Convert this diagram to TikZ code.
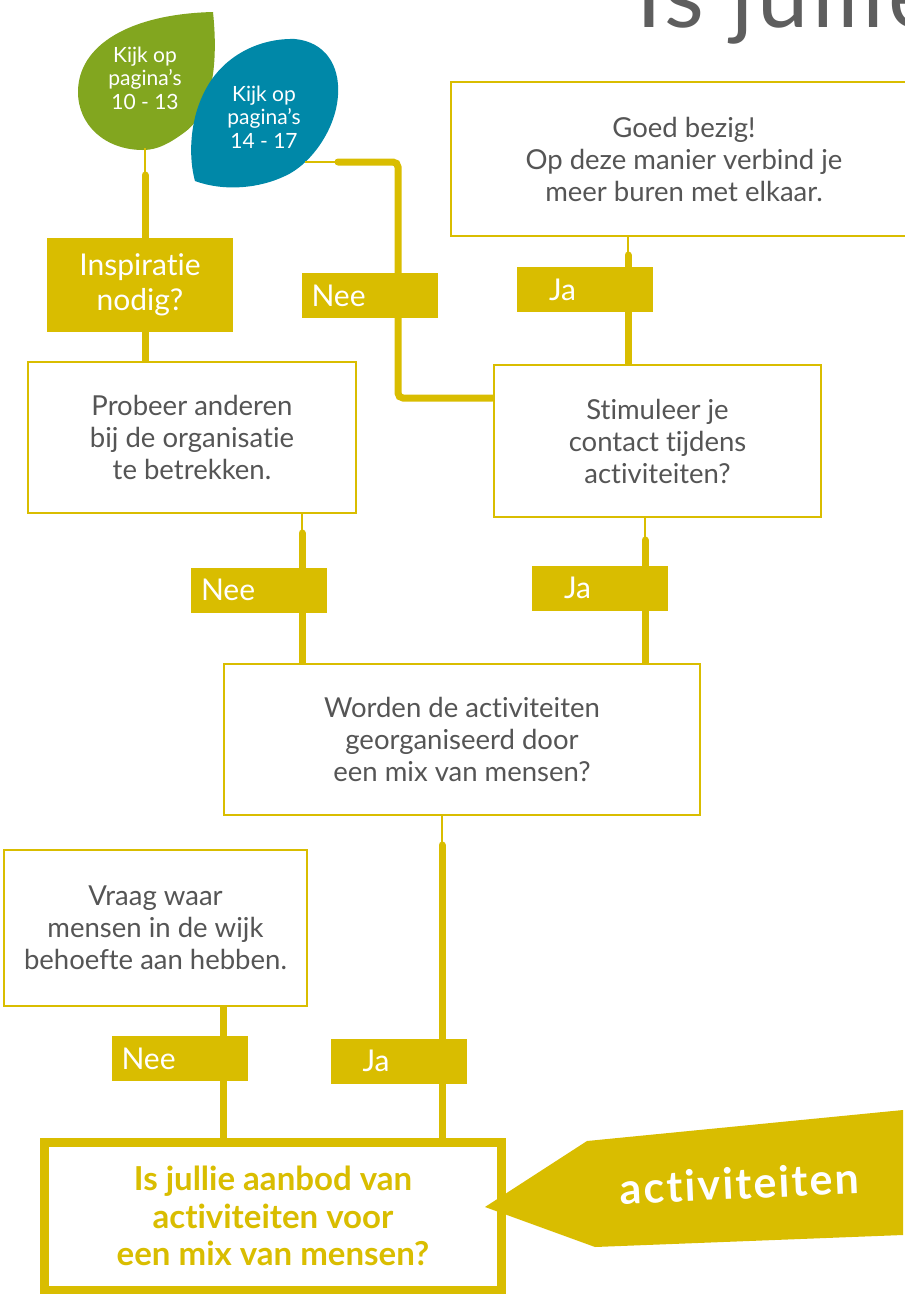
\documentclass[tikz,border=0pt]{standalone}
\usepackage{fontspec}
\setmainfont{Lato}[Ligatures={NoCommon,NoContextual}]
\definecolor{ylw}{RGB}{217,189,0}
\definecolor{txtgrey}{RGB}{85,85,85}
\definecolor{leafgreen}{RGB}{130,166,31}
\definecolor{leafblue}{RGB}{0,136,168}
\begin{document}
\begin{tikzpicture}[x=1pt,y=-1pt,
  qbox/.style={draw=ylw, line width=2.6pt, fill=white, align=center, text=txtgrey,
    font=\fontsize{27.5}{32}\selectfont, inner sep=0pt},
  fbox/.style={fill=ylw, align=center, text=white, font=\fontsize{30}{35}\selectfont, inner sep=0pt},
  neelab/.style={fill=ylw, text=white, font=\fontsize{30}{30}\selectfont, align=left,
    inner xsep=10pt, text width=116pt, minimum height=45pt, inner ysep=0pt},
  jalab/.style={fill=ylw, text=white, font=\fontsize{30}{30}\selectfont, align=left,
    inner xsep=32pt, text width=72pt, minimum height=45pt, inner ysep=0pt},
  leaftext/.style={text=white, align=center, font=\fontsize{21}{23.5}\selectfont, inner sep=0pt},
  thickconn/.style={draw=ylw, line width=7pt, line cap=round},
  thinconn/.style={draw=ylw, line width=2pt},
]
\useasboundingbox (0,0) rectangle (905,1294);
\clip (0,0) rectangle (905,1294);

% title
\node[anchor=base west, inner sep=0pt, text=txtgrey!95,
  font=\fontsize{92}{92}\selectfont\addfontfeature{LetterSpace=4}] (title) at (636,27) {Is jullie};

% coordinates for connector ends
\coordinate (gl) at (145,148);
\coordinate (g1) at (145,175);
\coordinate (bl) at (305,162);
\coordinate (b1) at (338,162);
\coordinate (b2) at (398,162);
\coordinate (b3) at (398,398);
\coordinate (q1) at (628,255);
\coordinate (p1) at (302,533);
\coordinate (s1) at (645,540);
\coordinate (w1) at (442,845);
\coordinate (v1) at (223,1020);

% boxes (positions)
\path
  node[fbox, minimum width=186pt, minimum height=94pt] (insp) at (140,285) {Inspiratie\\nodig?}
  node[qbox, minimum width=466pt, minimum height=154pt] (goed) at (684,159) {Goed bezig!\\Op deze manier verbind je\\meer buren met elkaar.}
  node[qbox, minimum width=328pt, minimum height=151pt] (probeer) at (192,437.5) {Probeer anderen\\bij de organisatie\\te betrekken.}
  node[qbox, minimum width=327pt, minimum height=152pt] (stim) at (657.5,441) {Stimuleer je\\contact tijdens\\activiteiten?}
  node[qbox, minimum width=476pt, minimum height=151pt] (worden) at (462,739.5) {Worden de activiteiten\\georganiseerd door\\een mix van mensen?}
  node[qbox, minimum width=303pt, minimum height=156pt] (vraag) at (155.5,928) {Vraag waar\\mensen in de wijk\\behoefte aan hebben.}
  node[qbox, line width=9pt, text=ylw, font=\fontsize{33}{37.5}\selectfont\bfseries, minimum width=457pt, minimum height=148pt] (final) at (273,1216) {Is jullie aanbod van\\activiteiten voor\\een mix van mensen?};

% leaves
\fill[leafgreen] (213,12) .. controls (218,60) and (214,110) .. (185,132)
  .. controls (170,143) and (158,150) .. (143,150)
  .. controls (105,150) and (78,125) .. (78,92)
  .. controls (78,45) and (130,14) .. (213,12) -- cycle;
\fill[leafblue] (195,181) .. controls (189,160) and (188,120) .. (207,87)
  .. controls (225,55) and (260,38) .. (295,39)
  .. controls (325,42) and (340,65) .. (338,95)
  .. controls (336,130) and (310,165) .. (285,176)
  .. controls (260,188) and (225,192) .. (195,181) -- cycle;
\node[leaftext] (gtext) at (145,78) {Kijk op\\pagina’s\\10 - 13};
\node[leaftext] (btext) at (264,117) {Kijk op\\pagina’s\\14 - 17};

% connectors
\draw[thinconn] (gl) -- (g1);
\draw[thickconn] (g1) -- (g1 |- insp.north);
\draw[thickconn] (g1 |- insp.south) -- (g1 |- probeer.north);
\draw[thinconn] (bl) -- (b1);
\draw[thickconn, rounded corners=5pt] (b1) -- (b2) -- (b3) -- (b3 -| stim.west);
\draw[thinconn] (q1 |- goed.south) -- (q1);
\draw[thickconn] (q1) -- (q1 |- stim.north);
\draw[thinconn] (p1 |- probeer.south) -- (p1);
\draw[thickconn] (p1) -- (p1 |- worden.north);
\draw[thinconn] (s1 |- stim.south) -- (s1);
\draw[thickconn] (s1) -- (s1 |- worden.north);
\draw[thinconn] (w1 |- worden.south) -- (w1);
\draw[thickconn] (w1) -- (w1 |- final.north);
\draw[thickconn] (v1 |- vraag.south) -- (v1 |- final.north);

% redraw boxes on top of connectors
\path
  node[fbox, minimum width=186pt, minimum height=94pt] at (insp.center) {Inspiratie\\nodig?}
  node[qbox, minimum width=466pt, minimum height=154pt] at (goed.center) {Goed bezig!\\Op deze manier verbind je\\meer buren met elkaar.}
  node[qbox, minimum width=328pt, minimum height=151pt] at (probeer.center) {Probeer anderen\\bij de organisatie\\te betrekken.}
  node[qbox, minimum width=327pt, minimum height=152pt] at (stim.center) {Stimuleer je\\contact tijdens\\activiteiten?}
  node[qbox, minimum width=476pt, minimum height=151pt] at (worden.center) {Worden de activiteiten\\georganiseerd door\\een mix van mensen?}
  node[qbox, minimum width=303pt, minimum height=156pt] at (vraag.center) {Vraag waar\\mensen in de wijk\\behoefte aan hebben.}
  node[qbox, line width=9pt, text=ylw, font=\fontsize{33}{37.5}\selectfont\bfseries, minimum width=457pt, minimum height=148pt] at (final.center) {Is jullie aanbod van\\activiteiten voor\\een mix van mensen?};

% labels
\node[neelab] (nee1) at (369.5,295.5) {Nee};
\node[jalab] (ja1) at (585,289.5) {Ja};
\node[neelab] (nee2) at (259,590) {Nee};
\node[jalab] (ja2) at (600,588) {Ja};
\node[neelab] (nee3) at (179.5,1058.5) {Nee};
\node[jalab] (ja3) at (398.5,1061) {Ja};

% arrow tag
\fill[ylw] (485,1207) -- (587,1141) -- (903,1110) -- (903,1235) -- (595,1247) -- cycle;
\node[anchor=base, rotate=2.5, inner sep=0pt, text=white,
  font=\fontsize{43}{43}\selectfont\bfseries\addfontfeature{LetterSpace=5}] (tag) at (740,1199) {activiteiten};
\end{tikzpicture}
\end{document}
